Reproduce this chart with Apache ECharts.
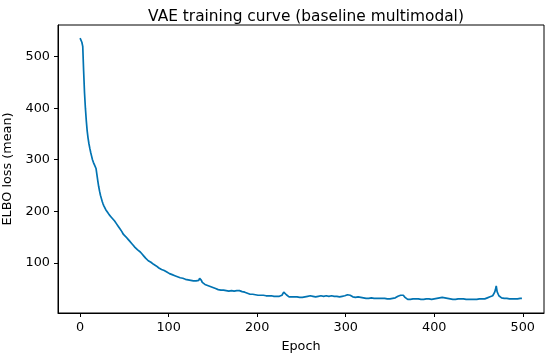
<!DOCTYPE html>
<html>
<head>
<meta charset="utf-8">
<script src="https://cdn.jsdelivr.net/npm/echarts@6/dist/echarts.min.js"></script>
<style>html,body{margin:0;padding:0;background:#fff}#c{width:550px;height:357px}</style>
</head>
<body>
<div id="c"></div>
<script>
const titleText = 'VAE training curve (baseline multimodal)';
const xName = 'Epoch';
const yName = 'ELBO loss (mean)';
const xTicks = [0, 100, 200, 300, 400, 500];
const yTicks = [100, 200, 300, 400, 500];
// ELBO loss per epoch, epochs 0..499
const loss = [
536,533,528,520,472,430,400,376,356,342,
331,322,314,307,300,295,291,289,283,271,
259,248,239,231,225,219,214,210,207,203,
200,198,195,193,191,189,187,185,183,181,
178,176,173,171,168,166,163,161,158,155,
154,152,150,148,146,144,142,140,138,136,
134,132,130,128,127,125,124,122,121,119,
117,115,113,111,109,107,106,104,103,102,
101,100,98,97,96,95,94,92,91,90,
89,88,87,86,86,85,84,83,82,81,
80,79,79,78,77,76,76,75,74,74,
73,73,72,71,71,70,70,69,69,68,
68,68,67,67,67,66,67,66,65,66,
66,65,66,68,66,70,73,66,62,60,
59,58,58,57,56,56,55,54,54,53,
52,52,51,50,50,49,48,48,47,47,
46,46,47,45,45,46,45,44,45,47,
45,46,48,46,45,47,44,46,48,45,
46,45,47,44,46,45,43,42,41,41,
40,40,39,40,39,39,38,39,38,38,
38,37,38,37,37,37,36,37,36,36,
36,37,36,36,35,36,36,35,36,35,
35,36,35,35,36,35,35,36,37,40,
43,42,40,38,37,35,34,34,35,34,
34,33,34,34,33,34,33,34,33,34,
34,33,34,35,34,33,34,35,36,38,
36,35,34,35,33,34,34,33,34,35,
34,35,36,35,34,35,36,35,36,35,
36,35,34,35,36,35,34,35,36,35,
35,36,35,34,35,36,35,36,35,36,
37,36,38,35,36,37,36,35,34,35,
34,33,34,33,34,35,34,33,32,33,
32,33,32,31,32,32,31,32,31,32,
31,32,31,31,32,31,30,31,31,30,
30,31,30,30,31,30,29,30,30,31,
30,31,30,31,32,31,32,33,34,35,
36,35,37,38,36,37,35,33,31,30,
29,29,30,29,30,29,30,30,29,30,
30,29,30,31,30,29,30,30,29,30,
29,30,29,30,30,29,28,29,30,29,
30,29,30,31,30,31,32,31,32,33,
32,33,32,33,32,31,30,31,30,29,
30,29,30,30,29,30,29,30,29,29,
30,29,29,30,29,28,29,29,28,29,
29,28,29,29,28,29,28,29,29,28,
29,30,29,29,30,30,31,30,31,32,
32,33,32,34,33,35,36,38,42,47,
55,44,40,36,34,33,32,32,31,31,
31,30,31,30,31,30,30,31,30,30,
31,30,30,31,30,29,30,31,30,31
];
const epochs = loss.map((v, i) => i);
const seriesData = loss.map((v, i) => [epochs[i], v]);

const font = 'DejaVu Sans';
const chart = echarts.init(document.getElementById('c'), null, {renderer: 'canvas'});
chart.setOption({
  animation: false,
  backgroundColor: '#fff',
  title: {
    text: titleText, left: 301, top: 4, textAlign: 'center',
    textStyle: {fontFamily: font, fontSize: 15.4, fontWeight: 'normal', color: '#000'}
  },
  grid: {left: 58, right: 6, top: 25, bottom: 44, show: true, borderColor: '#000', borderWidth: 1,
         containLabel: false, outerBoundsMode: 'none'},
  xAxis: {
    type: 'value', min: -24.95, max: 523.95,
    name: xName, nameLocation: 'middle', nameGap: 27,
    nameTextStyle: {fontFamily: font, fontSize: 12.8, color: '#000'},
    axisLine: {show: true, onZero: false, lineStyle: {color: '#000', width: 1}},
    axisTick: {show: true, length: 4, lineStyle: {color: '#000'}, customValues: xTicks},
    axisLabel: {fontFamily: font, fontSize: 12.8, color: '#000', margin: 8, customValues: xTicks},
    splitLine: {show: false}
  },
  yAxis: {
    type: 'value', min: 2.6, max: 561.4,
    name: yName, nameLocation: 'middle', nameGap: 37,
    nameTextStyle: {fontFamily: font, fontSize: 12.8, color: '#000'},
    axisLine: {show: true, onZero: false, lineStyle: {color: '#000', width: 1}},
    axisTick: {show: true, length: 4, lineStyle: {color: '#000'}, customValues: yTicks},
    axisLabel: {fontFamily: font, fontSize: 12.8, color: '#000', margin: 8, customValues: yTicks},
    splitLine: {show: false}
  },
  series: [{
    type: 'line', data: seriesData, showSymbol: false, symbol: 'none',
    lineStyle: {color: '#0173b2', width: 1.7}, clip: true
  }]
});
</script>
</body>
</html>
